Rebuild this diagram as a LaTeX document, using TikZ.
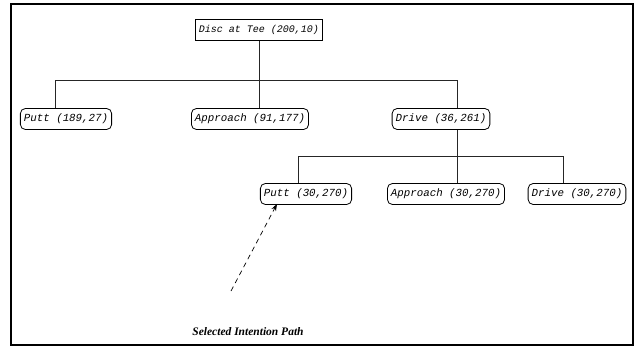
\documentclass[tikz,border=0pt]{standalone}
\usepackage{fontspec}
\newfontfamily\monoit{Liberation Mono}[ItalicFont={Liberation Mono Italic}]
\newfontfamily\serifbi{Liberation Serif}
\usetikzlibrary{arrows.meta}
\begin{document}
\begin{tikzpicture}[x=1pt,y=-1pt,
  box/.style={draw,rounded corners=5pt,line width=0.8pt,minimum height=21pt,inner xsep=3.5pt,inner ysep=0pt,font=\monoit\itshape\fontsize{10.8}{12}\selectfont},
  rootbox/.style={draw,line width=1.6pt,minimum height=21pt,inner xsep=3.5pt,inner ysep=0pt,font=\monoit\itshape\fontsize{10}{12}\selectfont},
  conn/.style={line width=0.7pt,draw=black!85}]
\useasboundingbox (0,0) rectangle (637,350);
\draw[line width=1.8pt] (11,4) rectangle (633,345);
\node[rootbox] (root) at (259,30) {Disc at Tee (200,10)};
\node[box] (putt1) at (66,119) {Putt (189,27)};
\node[box] (appr1) at (250,119) {Approach (91,177)};
\node[box] (drive1) at (441,119) {Drive (36,261)};
\node[box] (putt2) at (306,194) {Putt (30,270)};
\node[box] (appr2) at (446,194) {Approach (30,270)};
\node[box] (drive2) at (577,194) {Drive (30,270)};
\coordinate (h1l) at (55,80);
\coordinate (h1r) at (457,80);
\coordinate (h2l) at (298,156);
\coordinate (h2r) at (563,156);
\draw[conn] (root.south) -- (root.south |- appr1.north);
\draw[conn] (h1l |- putt1.north) -- (h1l) -- (h1r) -- (h1r |- drive1.north);
\draw[conn] (h1r |- drive1.south) -- (h1r |- appr2.north);
\draw[conn] (h2l |- putt2.north) -- (h2l) -- (h2r) -- (h2r |- drive2.north);
\node[font=\serifbi\bfseries\itshape\fontsize{11.5}{13}\selectfont] (lbl) at (248,332) {Selected Intention Path};
\coordinate (tail) at (231,291);
\draw[line width=0.7pt,dash pattern=on 5pt off 4pt,-{Stealth[length=7pt,width=5pt]}] (tail) -- ([xshift=-29pt,yshift=1pt]putt2.south);
\end{tikzpicture}
\end{document}
